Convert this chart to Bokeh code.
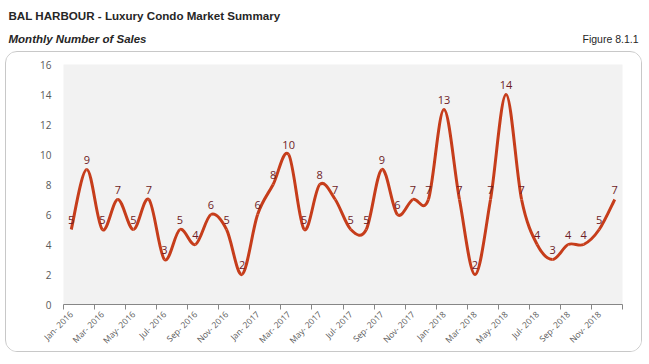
import numpy as np
from bokeh.plotting import figure
from bokeh.layouts import column
from bokeh.models import FixedTicker, Range1d, ColumnDataSource
from bokeh.core.properties import value
from bokeh.embed import file_html
from bokeh.resources import INLINE

months = ["Jan- 2016", "Feb- 2016", "Mar- 2016", "Apr- 2016", "May- 2016", "Jun- 2016",
          "Jul- 2016", "Aug- 2016", "Sep- 2016", "Oct- 2016", "Nov- 2016", "Dec- 2016",
          "Jan- 2017", "Feb- 2017", "Mar- 2017", "Apr- 2017", "May- 2017", "Jun- 2017",
          "Jul- 2017", "Aug- 2017", "Sep- 2017", "Oct- 2017", "Nov- 2017", "Dec- 2017",
          "Jan- 2018", "Feb- 2018", "Mar- 2018", "Apr- 2018", "May- 2018", "Jun- 2018",
          "Jul- 2018", "Aug- 2018", "Sep- 2018", "Oct- 2018", "Nov- 2018", "Dec- 2018"]
sales = [5, 9, 5, 7, 5, 7, 3, 5, 4, 6, 5, 2,
         6, 8, 10, 5, 8, 7, 5, 5, 9, 6, 7, 7,
         13, 7, 2, 7, 14, 7, 4, 3, 4, 4, 5, 7]
y_ticks = [0, 2, 4, 6, 8, 10, 12, 14, 16]

title = "BAL HARBOUR - Luxury Condo Market Summary"
subtitle = "Monthly Number of Sales"
figlabel = "Figure 8.1.1"

# ---- header (titles) ----
HW, HH = 649, 51
h = figure(width=HW, height=HH, output_backend="svg", toolbar_location=None,
           x_range=Range1d(0, HW), y_range=Range1d(HH, 0),
           x_axis_location=None, y_axis_location=None,
           min_border_left=0, min_border_right=0, min_border_top=0, min_border_bottom=0)
h.frame_align = False
h.outline_line_color = None
h.xgrid.visible = False
h.ygrid.visible = False
h.text(x=[8], y=[15], text=[title], text_font=value("Liberation Sans"), text_font_style="bold",
       text_font_size="11.6px", text_color="#262626", text_baseline="middle")
h.text(x=[8], y=[38], text=[subtitle], text_font=value("Liberation Sans"), text_font_style="bold italic",
       text_font_size="11.5px", text_color="#262626", text_baseline="middle")
h.text(x=[638], y=[38], text=[figlabel], text_font=value("Liberation Sans"),
       text_font_size="10.5px", text_color="#262626", text_baseline="middle", text_align="right")

# ---- main chart ----
W, H = 637, 301
p = figure(width=W, height=H, output_backend="svg", toolbar_location=None,
           x_range=Range1d(-0.5, len(sales) - 0.5), y_range=Range1d(0, 16),
           min_border_left=57, min_border_right=21, min_border_top=12, min_border_bottom=49)
p.frame_align = False
p.margin = (0, 0, 0, 5)
p.styles = {"border": "1px solid #c8c8c8", "border-radius": "12px", "overflow": "hidden"}
p.background_fill_color = "#f2f2f2"
p.border_fill_color = "white"
p.outline_line_color = None
p.xgrid.visible = False
p.ygrid.visible = False

# Smooth (Catmull-Rom) curve through the data
x = np.arange(len(sales), dtype=float)
y = np.array(sales, dtype=float)
xp = np.concatenate([[x[0]], x, [x[-1]]])
yp = np.concatenate([[y[0]], y, [y[-1]]])
x0, y0 = x[:-1], y[:-1]
x1, y1 = x[1:], y[1:]
cx0 = x0 + (xp[2:-1] - xp[0:-3]) / 6
cy0 = y0 + (yp[2:-1] - yp[0:-3]) / 6
cx1 = x1 - (xp[3:] - xp[1:-2]) / 6
cy1 = y1 - (yp[3:] - yp[1:-2]) / 6
p.bezier(x0=x0, y0=y0, x1=x1, y1=y1, cx0=cx0, cy0=cy0, cx1=cx1, cy1=cy1,
         line_color="#c63d1b", line_width=3)

src = ColumnDataSource(dict(x=x, y=y, t=[str(v) for v in sales]))
p.text(x="x", y="y", text="t", source=src, text_align="center", text_baseline="bottom",
       y_offset=-6, text_font_size="11px", text_color="#6e1c26", text_font=value("Open Sans"))

# axes
p.yaxis.ticker = FixedTicker(ticks=y_ticks)
p.yaxis.axis_line_color = None
p.yaxis.major_tick_line_color = None
p.yaxis.minor_tick_line_color = None
p.yaxis.major_label_text_color = "#595959"
p.yaxis.major_label_text_font = "Open Sans"
p.yaxis.major_label_text_font_size = "10px"
p.yaxis.major_label_standoff = 6

label_pos = list(range(0, len(sales), 2))
boundaries = [i - 0.5 for i in range(0, len(sales) + 1, 2)]
p.xaxis.ticker = FixedTicker(ticks=label_pos, minor_ticks=boundaries)
p.xaxis.major_label_overrides = {i: months[i] for i in label_pos}
p.xaxis.axis_line_color = "#868686"
p.xaxis.major_tick_line_color = None
p.xaxis.minor_tick_line_color = "#868686"
p.xaxis.minor_tick_out = 5
p.xaxis.minor_tick_in = 0
p.xaxis.major_tick_out = 5
p.xaxis.major_tick_in = 0
p.xaxis.major_label_orientation = np.pi / 4
p.xaxis.major_label_text_color = "#595959"
p.xaxis.major_label_text_font = "Open Sans"
p.xaxis.major_label_text_font_size = "8.5px"
p.xaxis.major_label_standoff = 3

layout = column(h, p, spacing=0)
open("out.html", "w").write(file_html(layout, INLINE))
